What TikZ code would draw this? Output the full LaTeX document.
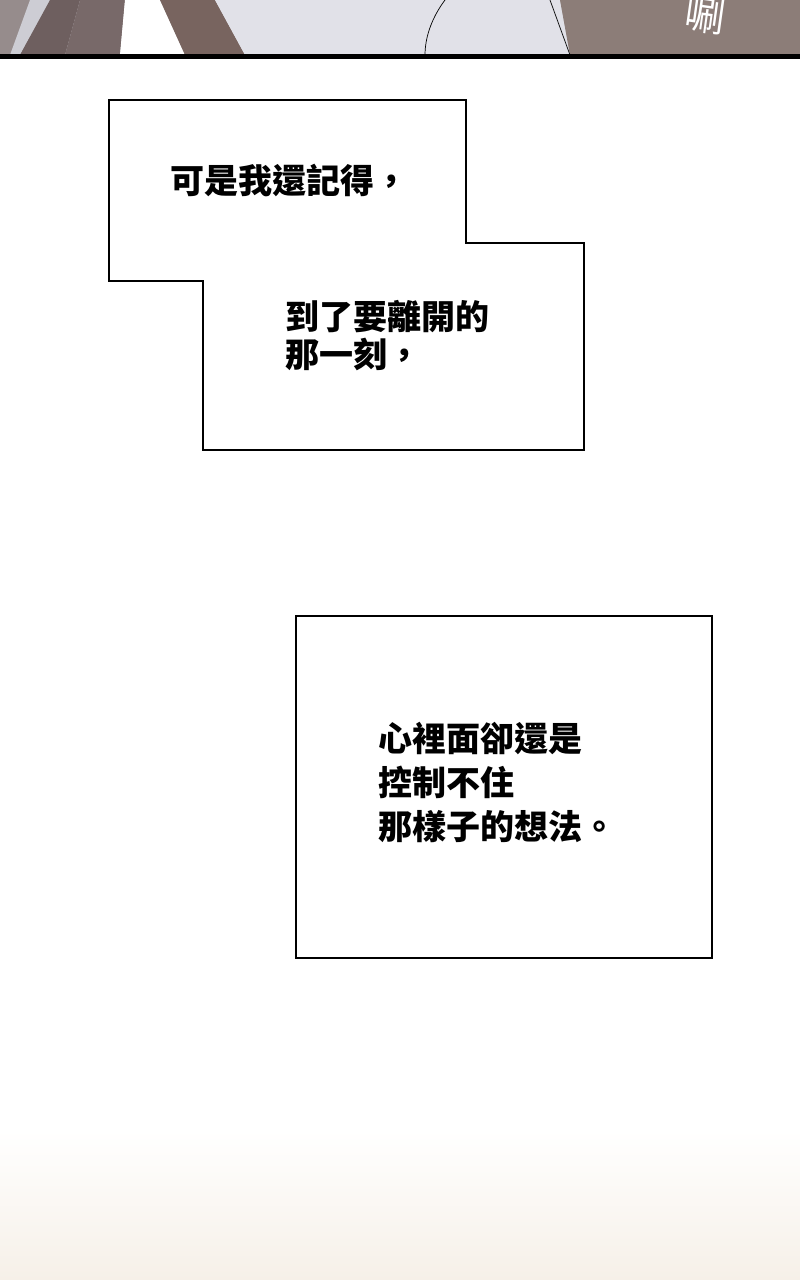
\documentclass[tikz,border=0pt]{standalone}
\usepackage{fontspec}
\newfontfamily\cjk{Noto Sans CJK TC}
\definecolor{bg1}{RGB}{246,240,232}
\definecolor{s0}{RGB}{200,200,204}
\definecolor{s1}{RGB}{150,140,140}
\definecolor{s2}{RGB}{205,205,212}
\definecolor{s3}{RGB}{110,95,95}
\definecolor{s4}{RGB}{120,105,105}
\definecolor{s5}{RGB}{120,100,95}
\definecolor{s6}{RGB}{225,225,232}
\definecolor{s7}{RGB}{140,125,120}
\begin{document}
\begin{tikzpicture}[x=1pt,y=-1pt,
  bub/.style={draw=black,line width=2.2pt,fill=white,line join=miter},
  txt/.style={font=\cjk\bfseries\fontsize{34}{38}\selectfont,anchor=north west,align=left,inner sep=0pt}]
\useasboundingbox (0,0) rectangle (800,1280);
\fill[white] (0,0) rectangle (800,1280);
\shade[top color=white,bottom color=bg1] (0,1130) rectangle (800,1280);
% top artwork strip
\fill[s0] (0,0) rectangle (800,55);
\fill[s1] (0,0) rectangle (30,55);
\fill[s2] (30,0) -- (50,0) -- (20,55) -- (10,55) -- cycle;
\fill[s3] (50,0) -- (80,0) -- (65,55) -- (20,55) -- cycle;
\fill[s4] (80,0) -- (125,0) -- (120,55) -- (65,55) -- cycle;
\fill[white] (125,0) -- (160,0) -- (185,55) -- (120,55) -- cycle;
\fill[s5] (160,0) -- (215,0) -- (245,55) -- (185,55) -- cycle;
\fill[s6] (215,0) -- (560,0) -- (570,55) -- (245,55) -- cycle;
\draw[line width=0.7pt] (445,0) .. controls (430,20) and (425,40) .. (425,55);
\fill[s7] (560,0) -- (800,0) -- (800,55) -- (570,55) -- cycle;
\draw[line width=0.7pt] (550,0) -- (570,55);
\node[font=\cjk\fontsize{40}{40}\selectfont,text=white,rotate=-8] (sfx) at (705,16) {唰};
\fill[black] (0,54) rectangle (800,59);
% bubbles
\draw[bub] (109,100) -- (466,100) -- (466,243) -- (584,243) -- (584,450) -- (203,450) -- (203,281) -- (109,281) -- cycle;
\node[txt] (t1) at (170,164) {可是我還記得，};
\node[txt] (t2) at (285,300) {到了要離開的\\那一刻，};
\draw[bub] (296,616) rectangle (712,958);
\node[txt,font=\cjk\bfseries\fontsize{34}{44}\selectfont] (t3) at (378,722) {心裡面卻還是\\控制不住\\那樣子的想法。};
\end{tikzpicture}
\end{document}
